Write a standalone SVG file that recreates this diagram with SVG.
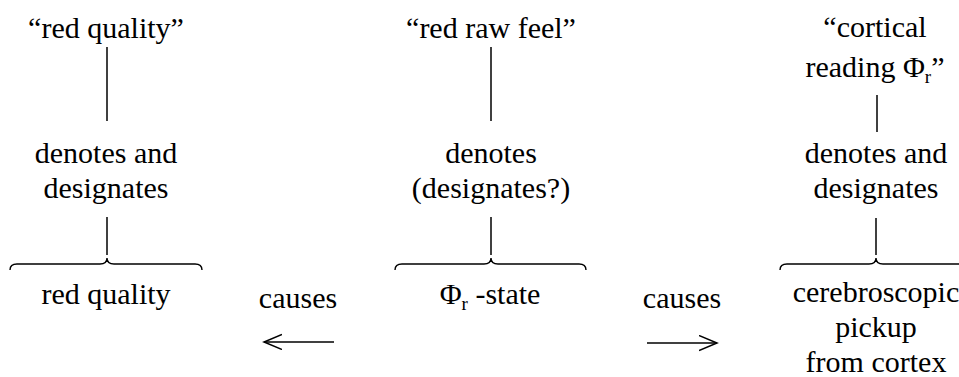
<svg xmlns="http://www.w3.org/2000/svg" width="959" height="377" viewBox="0 0 959 377">
<style>
text{font-family:"Liberation Serif","Times New Roman",serif;font-size:30px;fill:#000;text-anchor:middle}
.ln{stroke:#000;stroke-width:1.5;fill:none}
.br{stroke:#000;stroke-width:1.4;fill:none}
.sub{font-size:19px}
</style>
<defs>
<marker id="ah" markerWidth="22" markerHeight="18" refX="18" refY="8" orient="auto" markerUnits="userSpaceOnUse">
<path d="M0,0.5 L18,8 L0,15.5" fill="none" stroke="#000" stroke-width="1.5"/>
</marker>
</defs>
<rect width="959" height="377" fill="#fff"/>
<g id="connectors">
<line class="ln" x1="107" y1="47" x2="107" y2="121"/>
<line class="ln" x1="107" y1="217" x2="107" y2="255"/>
<path class="br" d="M10,270 Q10,264 17,264 L100,264 Q107,264 107,258 Q107,264 114,264 L195,264 Q202,264 202,270"/>
<line class="ln" x1="491" y1="47" x2="491" y2="121"/>
<line class="ln" x1="491" y1="217" x2="491" y2="255"/>
<path class="br" d="M395,270 Q395,264 402,264 L484,264 Q491,264 491,258 Q491,264 498,264 L579,264 Q586,264 586,270"/>
<line class="ln" x1="877" y1="95" x2="877" y2="132"/>
<line class="ln" x1="876" y1="218" x2="876" y2="255"/>
<path class="br" d="M780,270 Q780,264 787,264 L869,264 Q876,264 876,258 Q876,264 883,264 L965,264 Q972,264 972,270"/>
<line class="ln" x1="334" y1="342" x2="264" y2="342" marker-end="url(#ah)"/>
<line class="ln" x1="647" y1="343" x2="717" y2="343" marker-end="url(#ah)"/>
</g>
<g id="n-red-quality-term"><text x="106" y="38">“red quality”</text></g>
<g id="n-denotes-left"><text x="106" y="163">denotes and</text><text x="106" y="198">designates</text></g>
<g id="n-red-quality"><text x="106" y="304">red quality</text></g>
<g id="n-red-raw-feel"><text x="491" y="38">“red raw feel”</text></g>
<g id="n-denotes-mid"><text x="491" y="163">denotes</text><text x="491" y="198">(designates?)</text></g>
<g id="n-phi-state"><text x="490" y="304">Φ<tspan class="sub" dy="6">r</tspan><tspan dy="-6"> -state</tspan></text></g>
<g id="n-cortical"><text x="875" y="37">“cortical</text><text x="875" y="77">reading Φ<tspan class="sub" dy="6">r</tspan><tspan dy="-6">”</tspan></text></g>
<g id="n-denotes-right"><text x="876" y="163">denotes and</text><text x="876" y="198">designates</text></g>
<g id="n-pickup"><text x="876" y="302">cerebroscopic</text><text x="876" y="337">pickup</text><text x="876" y="372">from cortex</text></g>
<g id="l-causes-left"><text x="298" y="308">causes</text></g>
<g id="l-causes-right"><text x="682" y="308">causes</text></g>
</svg>
